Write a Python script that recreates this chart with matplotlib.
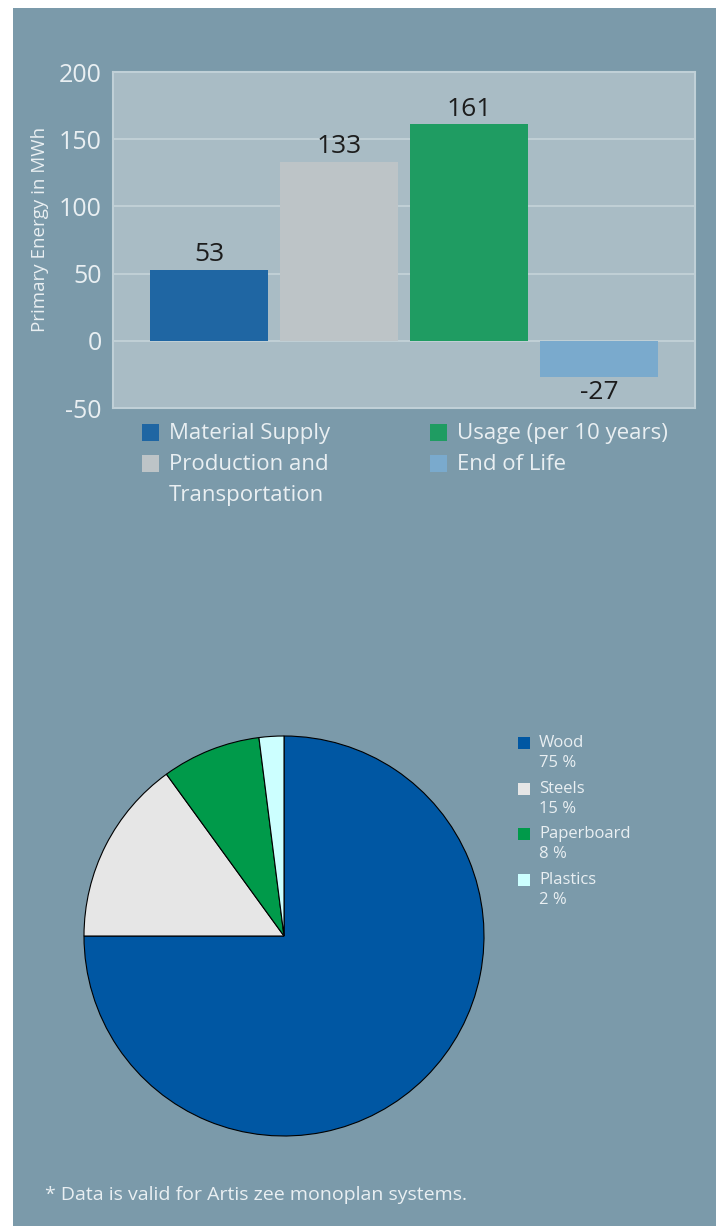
import matplotlib.pyplot as plt
from matplotlib.patches import Rectangle

plt.rcParams['font.family'] = ['Open Sans', 'DejaVu Sans']

# bar chart data
stages = ["Material Supply", "Production and\nTransportation", "Usage (per 10 years)", "End of Life"]
energy = [53, 133, 161, -27]
bar_colors = ["#1f66a3", "#bdc4c7", "#1f9c62", "#7aaacd"]
yticks = [-50, 0, 50, 100, 150, 200]

# pie chart data
materials = ["Wood", "Steels", "Paperboard", "Plastics"]
shares = [75, 15, 8, 2]
pie_colors = ["#0057a3", "#e6e6e6", "#009a4a", "#ccffff"]

W, H = 716, 1226
fig = plt.figure(figsize=(W / 100, H / 100), dpi=100, facecolor="white")

panel = "#7b9aaa"
light = "#e9eff2"
fig.patches.append(Rectangle((13 / W, 0), 1, 1 - 8 / H, transform=fig.transFigure,
                             facecolor=panel, edgecolor="none", zorder=-10))

# --- bar chart ---
ax = fig.add_axes([113 / W, 1 - 408 / H, (695 - 113) / W, (408 - 72) / H])
ax.set_facecolor("#a9bcc5")
xs = list(range(len(energy)))
ax.bar(xs, energy, width=0.908, color=bar_colors, zorder=3)
ax.set_xlim(-0.74, 3.74)
ax.set_ylim(-50, 200)
ax.set_yticks(yticks)
ax.set_yticklabels([str(v) for v in yticks], fontsize=18, color=light)
ax.set_xticks([])
ax.tick_params(axis="y", length=0, pad=8)
ax.grid(axis="y", color="#c5d3d9", linewidth=1.2, zorder=1)
for s in ax.spines.values():
    s.set_color("#c0d0d7")
    s.set_linewidth(1.5)
ax.set_ylabel("Primary Energy in MWh", fontsize=13.5, color=light)
ax.yaxis.set_label_coords(-0.11, 0.53)
for x, v in zip(xs, energy):
    off = 2 if v > 0 else -2
    ax.text(x, v + off, str(v), ha="center", va="bottom" if v > 0 else "top",
            fontsize=19, color="#1c1c1c")

# bar legend
leg_pos = [(142, 424), (142, 455), (430, 424), (430, 455)]
for (lx, ly), name, c in zip(leg_pos, stages, bar_colors):
    fig.patches.append(Rectangle((lx / W, 1 - (ly + 17) / H), 17 / W, 17 / H,
                                 transform=fig.transFigure, facecolor=c, edgecolor="none"))
    for k, line in enumerate(name.split("\n")):
        fig.text((lx + 27) / W, 1 - (ly + 9 + 31 * k) / H, line, fontsize=16,
                 color=light, va="center", ha="left")

# --- pie chart ---
pax = fig.add_axes([(284 - 200) / W, 1 - (936 + 200) / H, 400 / W, 400 / H])
pax.pie(shares, colors=pie_colors, startangle=90, counterclock=False,
        wedgeprops=dict(edgecolor="black", linewidth=0.8))
pax.set_xlim(-1, 1)
pax.set_ylim(-1, 1)
pax.set_aspect("equal")

for i, (name, s, c) in enumerate(zip(materials, shares, pie_colors)):
    ly = 737 + i * 45.7
    fig.patches.append(Rectangle((518 / W, 1 - (ly + 12) / H), 12 / W, 12 / H,
                                 transform=fig.transFigure, facecolor=c, edgecolor="none"))
    fig.text(539 / W, 1 - (ly + 6) / H, name, fontsize=12, color=light,
             va="center", ha="left")
    fig.text(539 / W, 1 - (ly + 26) / H, f"{s} %", fontsize=12, color=light,
             va="center", ha="left")

fig.text(45 / W, 1 - 1195 / H, "* Data is valid for Artis zee monoplan systems.",
         fontsize=14, color=light, va="center", ha="left")

fig.savefig("out.png", dpi=100, facecolor="white")
